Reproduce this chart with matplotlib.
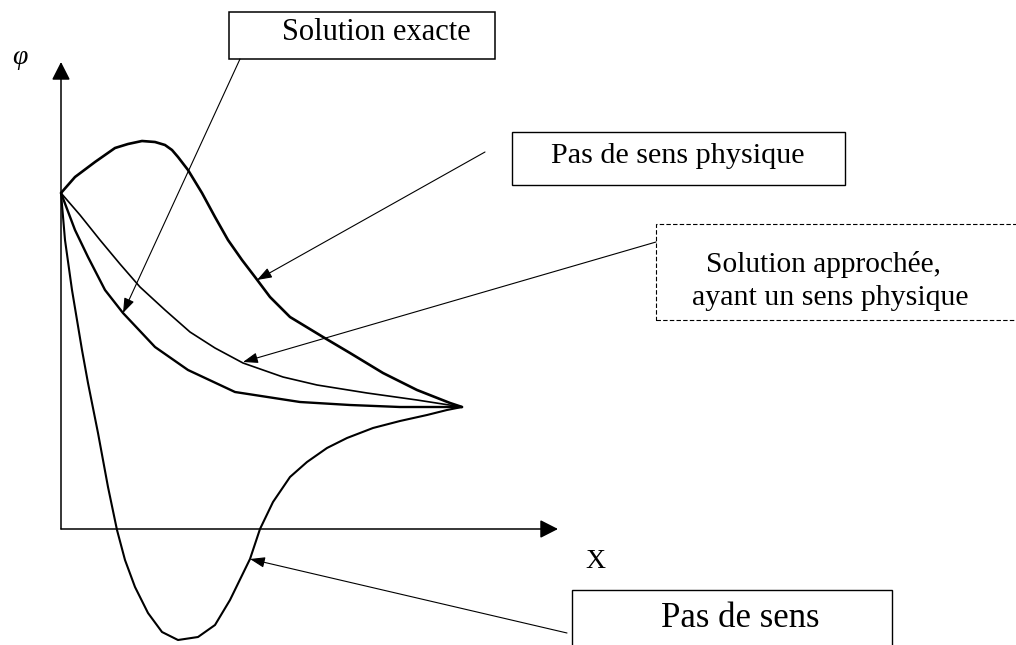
import matplotlib.pyplot as plt
from matplotlib.patches import Rectangle

# schematic units: 1 unit = 40 px, origin where the two axes cross
# curve "Pas de sens physique" (bump above, then down to the end point)
x_phys = [0, 0.35, 0.85, 1.35, 1.675, 2.025, 2.35, 2.6, 2.775, 2.925, 3.175,
          3.525, 3.85, 4.175, 4.525, 4.85, 5.225, 5.725, 6.55, 7.225, 8.05,
          8.9, 9.725, 10.025]
y_phys = [8.4, 8.8, 9.175, 9.525, 9.625, 9.7, 9.675, 9.6, 9.475, 9.3, 8.975,
          8.4, 7.8, 7.225, 6.725, 6.3, 5.8, 5.3, 4.8, 4.4, 3.9,
          3.475, 3.15, 3.05]

# curve "Solution approchée, ayant un sens physique"
x_appr = [0, 0.475, 0.975, 1.475, 1.975, 2.6, 3.225, 3.85, 4.55, 5.55, 6.4,
          7.65, 8.9, 10.025]
y_appr = [8.4, 7.85, 7.225, 6.625, 6.05, 5.475, 4.925, 4.525, 4.15, 3.8, 3.6,
          3.4, 3.225, 3.05]

# curve "Solution exacte"
x_exct = [0, 0.35, 0.675, 1.1, 1.55, 2.35, 3.175, 4.35, 5.975, 7.225, 8.475,
          10.025]
y_exct = [8.4, 7.475, 6.8, 5.975, 5.4, 4.55, 3.975, 3.425, 3.175, 3.1, 3.05,
          3.05]

# curve "Pas de sens" (dips below the x axis)
x_nons = [0, 0.1, 0.275, 0.525, 0.675, 0.925, 1.175, 1.4, 1.6, 1.85, 2.175,
          2.525, 2.925, 3.425, 3.85, 4.225, 4.725, 4.975, 5.3, 5.725, 6.15,
          6.65, 7.15, 7.8, 8.475, 9.15, 9.65, 10.025]
y_nons = [8.4, 7.225, 5.975, 4.475, 3.65, 2.4, 1.05, -0.025, -0.775, -1.45,
          -2.1, -2.575, -2.775, -2.7, -2.4, -1.775, -0.75, 0, 0.675, 1.3,
          1.675, 2.025, 2.275, 2.525, 2.7, 2.85, 2.975, 3.05]

labels = ["Solution exacte", "Pas de sens physique",
          "Solution approchée,\nayant un sens physique", "Pas de sens"]

FONT = "Liberation Serif"


def P(px, py):
    # picture pixel -> schematic units
    return ((px - 61) / 40.0, (529 - py) / 40.0)


def main():
    fig = plt.figure(figsize=(10.16, 6.45), dpi=100)
    ax = fig.add_axes([0, 0, 1, 1])
    ax.set_xlim(-61 / 40.0, 955 / 40.0)
    ax.set_ylim(-116 / 40.0, 529 / 40.0)
    ax.axis("off")

    # axes with arrow heads
    axis_arrow = dict(arrowstyle="-|>,head_length=0.55,head_width=0.28",
                      mutation_scale=20, lw=1.1, color="black",
                      shrinkA=0, shrinkB=0)
    ax.annotate("", xy=P(61, 62), xytext=P(61, 529), arrowprops=axis_arrow)
    ax.annotate("", xy=P(558, 529), xytext=P(61, 529), arrowprops=axis_arrow)

    # curves
    style = dict(color="black", solid_capstyle="round", solid_joinstyle="round")
    ax.plot(x_phys, y_phys, lw=1.9, **style)
    ax.plot(x_appr, y_appr, lw=1.2, **style)
    ax.plot(x_exct, y_exct, lw=1.7, **style)
    ax.plot(x_nons, y_nons, lw=1.5, **style)

    # axis labels
    ax.text(*P(20, 58), "φ", fontsize=20, style="italic", family=FONT,
            ha="center", va="center")
    ax.text(*P(595, 568), "X", fontsize=20, family=FONT,
            ha="center", va="baseline")

    # label boxes
    boxes = [(229, 12, 495, 59, "-", 1.1),
             (512, 132, 845, 185, "-", 1.0),
             (656, 224, 1030, 320, (0, (4, 2)), 0.8),
             (572, 590, 892, 660, "-", 1.0)]
    for x0, y0, x1, y1, ls, lw in boxes:
        (a, b), (c, d) = P(x0, y1), P(x1, y0)
        ax.add_patch(Rectangle((a, b), c - a, d - b, fill=False,
                               edgecolor="black", lw=lw, linestyle=ls))

    ax.text(*P(376, 40), labels[0], fontsize=22, family=FONT,
            ha="center", va="baseline")
    ax.text(*P(678, 163), labels[1], fontsize=21.7, family=FONT,
            ha="center", va="baseline")
    first, second = labels[2].split("\n")
    ax.text(*P(823, 272), first, fontsize=21.2, family=FONT,
            ha="center", va="baseline")
    ax.text(*P(830, 305), second, fontsize=21.5, family=FONT,
            ha="center", va="baseline")
    ax.text(*P(740, 627), labels[3], fontsize=25, family=FONT,
            ha="center", va="baseline")

    # pointer arrows from the boxes to the curves
    ptr = dict(arrowstyle="-|>,head_length=0.9,head_width=0.32",
               mutation_scale=10, lw=0.8, color="black",
               shrinkA=0, shrinkB=0)
    for start, tip in [((240, 59), (123, 313)),
                       ((485, 152), (257, 280)),
                       ((656, 242), (243, 362)),
                       ((567, 633), (250, 559))]:
        ax.annotate("", xy=P(*tip), xytext=P(*start), arrowprops=ptr)

    fig.savefig("out.png", dpi=100)


if __name__ == '__main__':
    main()
